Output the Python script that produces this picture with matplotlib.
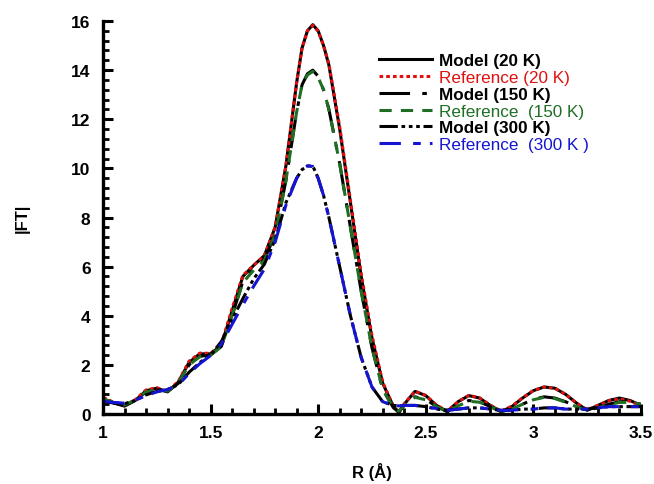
import matplotlib
matplotlib.use("Agg")
import matplotlib.pyplot as plt
from matplotlib.ticker import MultipleLocator

plt.rcParams['font.family'] = ['Liberation Sans', 'DejaVu Sans']

# R grid (Å)
r = [1.0, 1.05, 1.1, 1.15, 1.2, 1.25, 1.3, 1.35, 1.4, 1.45, 1.5, 1.55, 1.6, 1.65,
     1.7, 1.75, 1.8, 1.85, 1.9, 1.925, 1.95, 1.975, 2.0, 2.025, 2.05, 2.1, 2.15,
     2.2, 2.25, 2.3, 2.35, 2.375, 2.4, 2.45, 2.5, 2.55, 2.6, 2.65, 2.7, 2.75, 2.8,
     2.85, 2.9, 2.95, 3.0, 3.05, 3.1, 3.15, 3.2, 3.25, 3.3, 3.35, 3.4, 3.45, 3.5]

model_20 = [0.62, 0.45, 0.32, 0.55, 0.95, 1.05, 0.9, 1.3, 2.1, 2.45, 2.45, 2.8, 4.2, 5.6,
            6.05, 6.45, 7.6, 10.1, 13.5, 14.9, 15.6, 15.85, 15.6, 15.0, 14.2, 11.6, 8.6,
            5.6, 3.1, 1.25, 0.3, 0.05, 0.4, 0.92, 0.75, 0.35, 0.1, 0.5, 0.75, 0.65, 0.35,
            0.1, 0.3, 0.65, 0.95, 1.1, 1.05, 0.8, 0.45, 0.15, 0.35, 0.55, 0.65, 0.55, 0.35]
ref_20 = [0.68, 0.48, 0.35, 0.58, 0.98, 1.07, 0.93, 1.33, 2.15, 2.48, 2.47, 2.85, 4.3, 5.65,
          6.05, 6.45, 7.6, 10.1, 13.5, 14.9, 15.6, 15.82, 15.58, 15.0, 14.25, 11.7, 8.7,
          5.7, 3.2, 1.3, 0.3, 0.07, 0.42, 0.93, 0.76, 0.36, 0.12, 0.5, 0.76, 0.66, 0.36,
          0.12, 0.32, 0.66, 0.96, 1.1, 1.05, 0.8, 0.45, 0.17, 0.35, 0.54, 0.62, 0.52, 0.33]
model_150 = [0.6, 0.45, 0.35, 0.55, 0.9, 1.0, 0.92, 1.25, 2.0, 2.35, 2.4, 2.75, 4.0, 5.4,
             5.9, 6.3, 7.3, 9.5, 12.3, 13.4, 13.85, 14.0, 13.75, 13.2, 12.4, 10.2, 7.6,
             5.0, 2.7, 1.0, 0.25, 0.1, 0.35, 0.7, 0.6, 0.3, 0.1, 0.35, 0.55, 0.5, 0.3,
             0.1, 0.2, 0.4, 0.6, 0.7, 0.65, 0.5, 0.3, 0.15, 0.25, 0.4, 0.5, 0.5, 0.4]
ref_150 = [0.62, 0.47, 0.37, 0.57, 0.9, 1.0, 0.93, 1.27, 2.0, 2.33, 2.4, 2.75, 4.0, 5.35,
           5.85, 6.25, 7.3, 9.5, 12.3, 13.4, 13.8, 13.95, 13.7, 13.2, 12.4, 10.2, 7.6,
           5.0, 2.7, 1.0, 0.25, 0.12, 0.35, 0.68, 0.58, 0.3, 0.1, 0.33, 0.52, 0.48, 0.3,
           0.12, 0.2, 0.4, 0.58, 0.68, 0.63, 0.48, 0.3, 0.15, 0.25, 0.38, 0.47, 0.48, 0.4]
model_300 = [0.5, 0.45, 0.42, 0.55, 0.78, 0.92, 1.0, 1.2, 1.7, 2.1, 2.4, 2.95, 3.85, 4.7,
             5.5, 6.1, 7.1, 8.6, 9.6, 9.95, 10.1, 10.1, 9.6, 8.9, 8.0, 6.0, 4.0,
             2.3, 1.1, 0.5, 0.35, 0.33, 0.35, 0.35, 0.3, 0.2, 0.15, 0.2, 0.25, 0.25, 0.2,
             0.15, 0.15, 0.2, 0.2, 0.25, 0.25, 0.2, 0.2, 0.2, 0.25, 0.3, 0.3, 0.3, 0.3]
ref_300 = [0.52, 0.47, 0.44, 0.56, 0.75, 0.9, 1.0, 1.18, 1.65, 2.05, 2.38, 2.85, 3.65, 4.45,
           5.2, 5.9, 7.0, 8.5, 9.6, 9.95, 10.1, 10.08, 9.6, 8.9, 8.0, 6.0, 4.0,
           2.3, 1.1, 0.5, 0.35, 0.33, 0.35, 0.35, 0.3, 0.22, 0.15, 0.2, 0.25, 0.25, 0.2,
           0.15, 0.15, 0.2, 0.2, 0.25, 0.25, 0.2, 0.2, 0.2, 0.25, 0.3, 0.3, 0.3, 0.3]

red = '#e01010'
green = '#1f6e24'
blue = '#1414d2'

fig = plt.figure(figsize=(6.54, 4.85), dpi=100)
ax = fig.add_axes([0.1575, 0.1443, 0.8225, 0.8103])

lw = 2.2
ax.plot(r, model_20, color='black', lw=lw, label='Model (20 K)')
ax.plot(r, ref_20, color=red, lw=lw, dashes=(1.2, 1.0), label='Reference (20 K)')
ax.plot(r, model_150, color='black', lw=lw, dashes=(10, 4, 1.5, 4), label='Model (150 K)')
ax.plot(r, ref_150, color=green, lw=lw, dashes=(4, 3), label='Reference  (150 K)')
ax.plot(r, model_300, color='black', lw=lw, dashes=(6, 1.2, 1.2, 1.2, 1.2, 1.2, 1.2, 1.2),
        label='Model (300 K)')
ax.plot(r, ref_300, color=blue, lw=lw, dashes=(7, 4, 2.5, 3), label='Reference  (300 K )')

ax.set_xlim(1, 3.5)
ax.set_ylim(0, 16)
ax.xaxis.set_major_locator(MultipleLocator(0.5))
ax.xaxis.set_minor_locator(MultipleLocator(0.1))
ax.yaxis.set_major_locator(MultipleLocator(2))
ax.yaxis.set_minor_locator(MultipleLocator(0.4))
ax.xaxis.set_major_formatter(plt.FuncFormatter(lambda v, p: f'{v:g}'))

for s in ['top', 'right']:
    ax.spines[s].set_visible(False)
for s in ['left', 'bottom']:
    ax.spines[s].set_linewidth(2.4)

ax.tick_params(which='major', direction='in', length=7, width=2.2, labelsize=12.5, pad=8)
ax.tick_params(which='minor', direction='in', length=4, width=2.0)
ax.tick_params(axis='y', which='major', pad=9)
for t in ax.get_xticklabels() + ax.get_yticklabels():
    t.set_fontweight('bold')

ax.set_xlabel('R (Å)', fontsize=12, fontweight='bold', labelpad=16)
ax.set_ylabel('|FT|', fontsize=12, fontweight='bold', labelpad=30)

leg = ax.legend(loc='upper left', bbox_to_anchor=(0.5, 0.935), frameon=False,
                fontsize=12.3, handlelength=3.1, handletextpad=0.4,
                labelspacing=0.1, borderaxespad=0)
for txt, c, w in zip(leg.get_texts(),
                     ['black', red, 'black', green, 'black', blue],
                     ['bold', 'normal', 'bold', 'normal', 'bold', 'normal']):
    txt.set_color(c)
    txt.set_fontweight(w)

fig.savefig('out.png', dpi=100)
